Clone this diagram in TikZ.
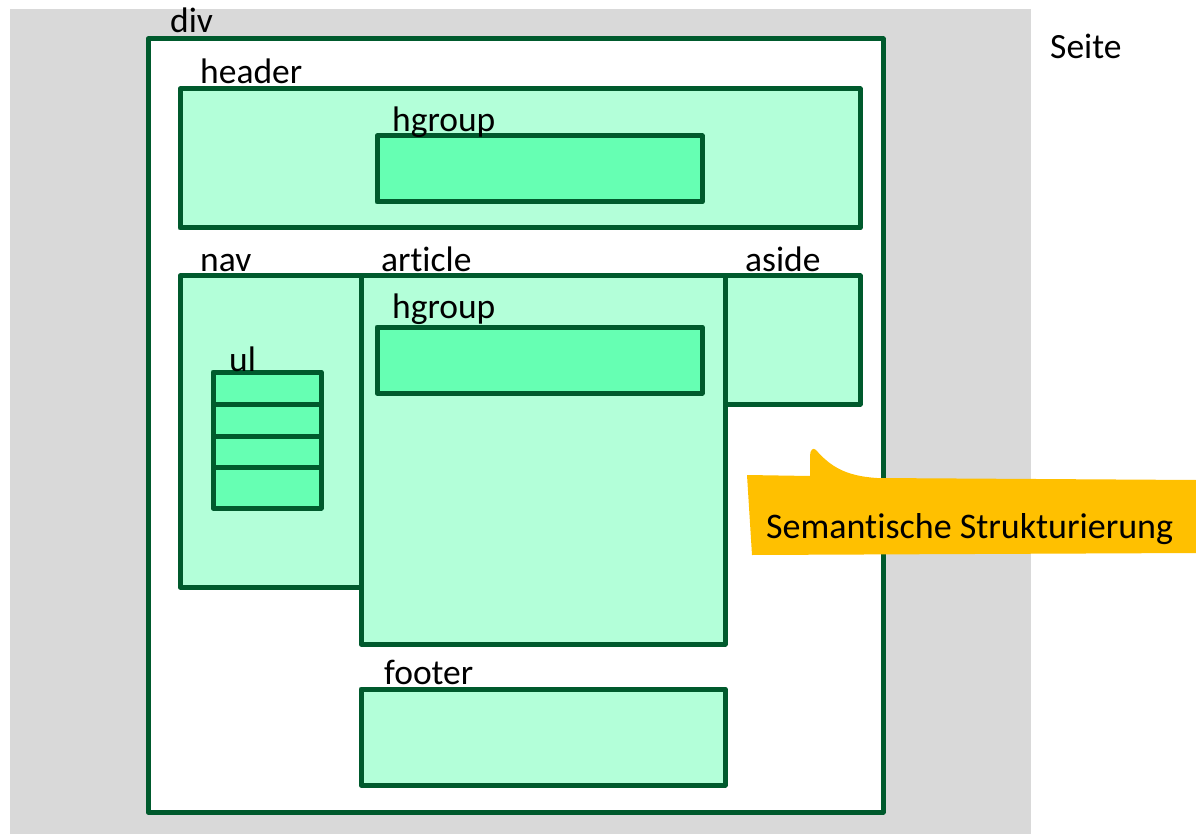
\documentclass[tikz,border=0pt]{standalone}
\usepackage{fontspec}
\setmainfont[Ligatures=NoCommon]{Carlito}
\definecolor{pagegray}{RGB}{217,217,217}
\definecolor{boxline}{RGB}{0,90,45}
\definecolor{lightfill}{RGB}{179,255,217}
\definecolor{midfill}{RGB}{102,255,179}
\definecolor{calloutyellow}{RGB}{255,192,0}
\tikzset{
  box/.style={draw=boxline, line width=5pt, line join=round, fill=lightfill, rectangle, inner sep=0pt, outer sep=0pt, anchor=north west},
  innerbox/.style={box, fill=midfill},
  lbl/.style={anchor=base west, inner sep=0pt, font=\fontsize{35.5}{40}\selectfont}
}
\begin{document}
\begin{tikzpicture}[x=1pt,y=-1pt]
\useasboundingbox (0,0) rectangle (1196,834);
\fill[white] (0,0) rectangle (1196,834);
\fill[pagegray] (10,9) rectangle (1031,834);
% div
\node[box, fill=white, minimum width=735pt, minimum height=773pt] (div) at (148,39) {};
% header
\node[box, minimum width=680pt, minimum height=139pt] (header) at (180,89) {};
\node[innerbox, minimum width=325pt, minimum height=66pt] (hgroupA) at (377,136) {};
% nav, article, aside
\node[box, minimum width=181pt, minimum height=311pt] (nav) at (180,276) {};
\node[box, minimum width=364pt, minimum height=368pt] (article) at (361,276) {};
\node[box, minimum width=135pt, minimum height=128pt] (aside) at (725,276) {};
\node[innerbox, minimum width=325pt, minimum height=66pt] (hgroupB) at (377,327) {};
% ul
\node[innerbox, minimum width=108pt, minimum height=32pt] (li1) at (213,372) {};
\node[innerbox, minimum width=108pt, minimum height=32pt] (li2) at (213,404) {};
\node[innerbox, minimum width=108pt, minimum height=31pt] (li3) at (213,436) {};
\node[innerbox, minimum width=108pt, minimum height=41pt] (li4) at (213,467) {};
% footer
\node[box, minimum width=364pt, minimum height=96pt] (footer) at (361,689) {};
% labels
\node[lbl] (tdiv) at (170,33) {div};
\node[lbl] (theader) at (200,84) {header};
\node[lbl] (thgroupA) at (392,132) {hgroup};
\node[lbl] (tnav) at (200,272) {nav};
\node[lbl] (tarticle) at (381,272) {article};
\node[lbl] (taside) at (745,272) {aside};
\node[lbl] (thgroupB) at (392,318) {hgroup};
\node[lbl] (tul) at (229,371) {ul};
\node[lbl] (tfooter) at (384,684) {footer};
\node[lbl] (tseite) at (1050,59) {Seite};
% callout
\fill[calloutyellow] (747,475) -- (810,476) -- (810,456)
  .. controls (810,450) and (813,447) .. (816,450)
  .. controls (830,466) and (845,476) .. (877,478)
  -- (1196,480) -- (1196,553) -- (752,555) -- cycle;
\node[lbl, font=\fontsize{36}{40}\selectfont] (tcallout) at (766,538) {Semantische Strukturierung};
\end{tikzpicture}
\end{document}
